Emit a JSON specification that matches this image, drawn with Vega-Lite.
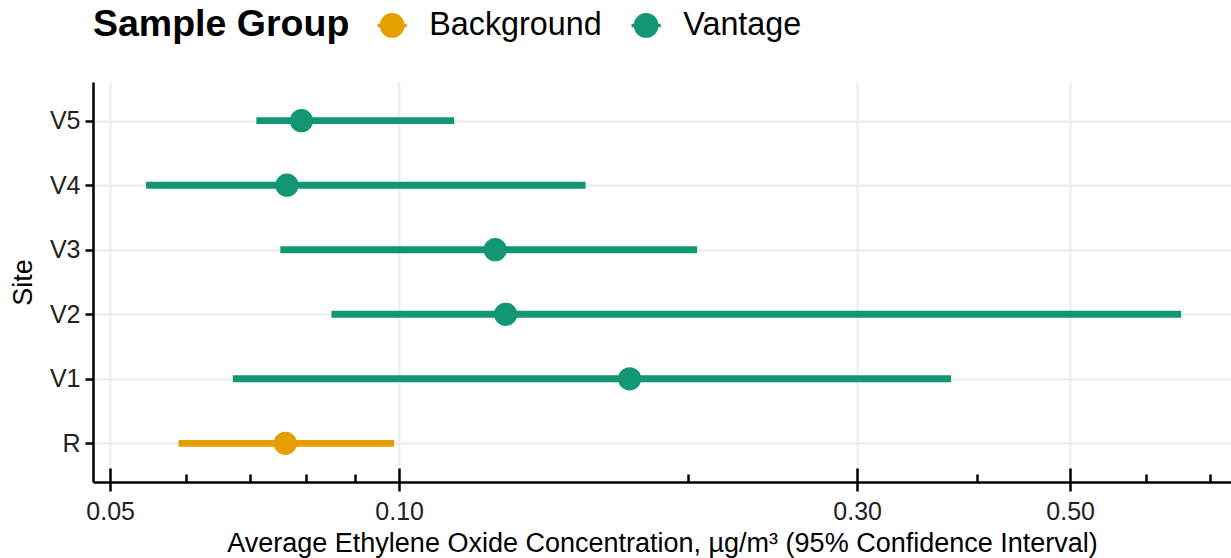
{
  "$schema": "https://vega.github.io/schema/vega-lite/v6.json",
  "width": 1138,
  "height": 400,
  "autosize": {"type": "none"},
  "padding": {"left": 93, "top": 82, "right": 0, "bottom": 76},
  "background": "white",
  "config": {"view": {"stroke": null}, "font": "Liberation Sans"},
  "data": {
    "values": [
      {"site": "R", "group": "Background", "lower": 0.0589, "mean": 0.0761, "upper": 0.0988},
      {"site": "V1", "group": "Vantage", "lower": 0.0671, "mean": 0.1738, "upper": 0.3758},
      {"site": "V2", "group": "Vantage", "lower": 0.0850, "mean": 0.1291, "upper": 0.6525},
      {"site": "V3", "group": "Vantage", "lower": 0.0752, "mean": 0.1259, "upper": 0.2043},
      {"site": "V4", "group": "Vantage", "lower": 0.0545, "mean": 0.0764, "upper": 0.1564},
      {"site": "V5", "group": "Vantage", "lower": 0.0710, "mean": 0.0791, "upper": 0.1141}
    ]
  },
  "encoding": {
    "y": {
      "field": "site",
      "type": "nominal",
      "sort": ["V5", "V4", "V3", "V2", "V1", "R"],
      "scale": {"type": "point", "padding": 0.6},
      "axis": {
        "title": "Site",
        "titleFontSize": 27,
        "titleFontWeight": "normal",
        "titleColor": "#000000",
        "titlePadding": 12,
        "labelFontSize": 25,
        "labelColor": "#222222",
        "labelPadding": 5,
        "tickSize": 8,
        "tickWidth": 2.5,
        "tickColor": "#000000",
        "domainColor": "#000000",
        "domainWidth": 2.5,
        "grid": true,
        "gridColor": "#EBEBEB",
        "gridWidth": 2
      }
    },
    "color": {
      "field": "group",
      "type": "nominal",
      "scale": {"domain": ["Background", "Vantage"], "range": ["#E69F00", "#129673"]},
      "legend": {
        "orient": "top",
        "direction": "horizontal",
        "title": "Sample Group",
        "titleOrient": "left",
        "titleFontSize": 37.5,
        "titleFontWeight": "bold",
        "titleColor": "#000000",
        "titlePadding": 26,
        "titleBaseline": "middle",
        "titleLimit": 600,
        "labelFontSize": 32.3,
        "labelColor": "#000000",
        "labelLimit": 600,
        "labelOffset": 21,
        "columnPadding": 28,
        "symbolType": "M-1,-0.12H1V0.12H-1Z M0.85,0 A0.85,0.85 0 1,1 -0.85,0 A0.85,0.85 0 1,1 0.85,0 Z",
        "symbolSize": 850,
        "symbolStrokeWidth": 0,
        "symbolOpacity": 1,
        "offset": 38,
        "padding": 0
      }
    }
  },
  "layer": [
    {
      "mark": {"type": "rule", "strokeWidth": 6.8},
      "encoding": {
        "x": {
          "field": "lower",
          "type": "quantitative",
          "scale": {"type": "log", "domain": [0.04798, 0.7354], "nice": false, "zero": false},
          "axis": {
            "orient": "bottom",
            "values": [0.05, 0.1, 0.3, 0.5],
            "format": ".2f",
            "title": "Average Ethylene Oxide Concentration, µg/m³ (95% Confidence Interval)",
            "titleFontSize": 27,
            "titleFontWeight": "normal",
            "titleColor": "#000000",
            "titlePadding": 6,
            "labelFontSize": 25,
            "labelColor": "#222222",
            "labelPadding": 8,
            "tickSize": 9,
            "tickWidth": 2.5,
            "tickColor": "#000000",
            "domainColor": "#000000",
            "domainWidth": 2.5,
            "grid": true,
            "gridColor": "#EBEBEB",
            "gridWidth": 2
          }
        },
        "x2": {"field": "upper"}
      }
    },
    {
      "mark": {"type": "point", "filled": true, "size": 540, "opacity": 1},
      "encoding": {
        "x": {
          "field": "mean",
          "type": "quantitative",
          "axis": {
            "orient": "bottom",
            "values": [0.05, 0.06, 0.07, 0.08, 0.09, 0.1, 0.2, 0.3, 0.4, 0.5, 0.6, 0.7],
            "labels": false,
            "domain": false,
            "grid": false,
            "title": null,
            "tickWidth": 2.5,
            "tickColor": "#000000",
            "tickSize": {"condition": {"test": "datum.value == 0.05 || datum.value == 0.1 || datum.value == 0.3 || datum.value == 0.5", "value": -14}, "value": -8}
          }
        }
      }
    }
  ],
  "resolve": {"axis": {"x": "independent"}}
}
